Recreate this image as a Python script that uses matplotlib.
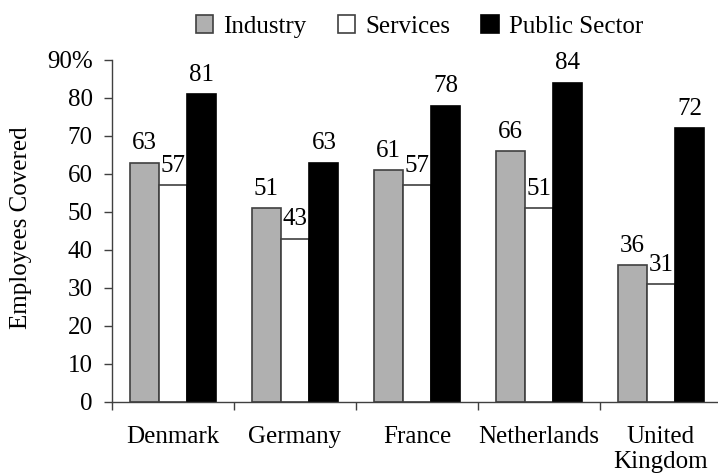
import matplotlib.pyplot as plt
import numpy as np

countries = ['Denmark', 'Germany', 'France', 'Netherlands', 'United\nKingdom']
industry = [63, 51, 61, 66, 36]
services = [57, 43, 57, 51, 31]
public = [81, 63, 78, 84, 72]
series_names = ['Industry', 'Services', 'Public Sector']

plt.rcParams['font.family'] = ['Liberation Serif', 'DejaVu Serif']
plt.rcParams['font.size'] = 18

fig = plt.figure(figsize=(7.18, 4.74), dpi=100)
ax = fig.add_axes([112 / 718, 72 / 474, 606 / 718, 342 / 474])

x = np.arange(len(countries)) + 0.5
w = 0.237
styles = [
    dict(color='#b0b0b0', edgecolor='#404040'),
    dict(color='white', edgecolor='#404040'),
    dict(color='black', edgecolor='black'),
]
for i, (vals, st, name) in enumerate(zip([industry, services, public], styles, series_names)):
    bars = ax.bar(x + (i - 1) * w, vals, w, label=name, linewidth=1.2, **st)
    for b, v in zip(bars, vals):
        ax.annotate(str(v), (b.get_x() + b.get_width() / 2, v),
                    xytext=(0, 6), textcoords='offset points',
                    ha='center', va='bottom')

ax.set_xlim(0, 606 / 122)
ax.set_ylim(0, 90)
ax.set_yticks(range(0, 100, 10))
ax.set_yticklabels([str(t) for t in range(0, 90, 10)] + ['90%'])
ax.set_xticks(x)
ax.set_xticklabels(countries, linespacing=1.2)
ax.set_xticks(np.arange(0, 5), minor=True)
ax.tick_params(axis='x', which='major', length=0, pad=17)
ax.tick_params(axis='x', which='minor', length=6, width=1, color='#404040')
ax.tick_params(axis='y', length=6, width=1, color='#404040', pad=8)

for s in ['top', 'right']:
    ax.spines[s].set_visible(False)
for s in ['left', 'bottom']:
    ax.spines[s].set_color('#404040')
    ax.spines[s].set_linewidth(1)

ax.set_ylabel('Employees Covered')
ax.yaxis.set_label_coords(-0.132, 0.51)

fig.legend(loc='upper left', bbox_to_anchor=(0.241, 1.015), ncol=3, frameon=False,
           handlelength=0.7, handleheight=0.7, handletextpad=0.4, columnspacing=1.25)

fig.savefig('out.png', dpi=100)
